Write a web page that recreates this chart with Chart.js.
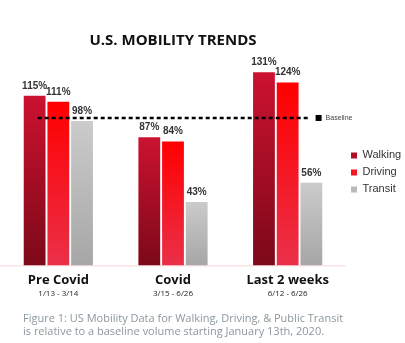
<!DOCTYPE html>
<html>
<head>
<meta charset="utf-8">
<script src="https://cdn.jsdelivr.net/npm/chart.js@4.4.1/dist/chart.umd.min.js"></script>
<style>
  html, body { margin: 0; padding: 0; background: #fff; }
  #wrap { position: relative; width: 405px; height: 343px; }
  #caption {
    position: absolute; left: 23px; top: 311px;
    font: 11px "Open Sans", sans-serif; line-height: 13px;
    color: #8c979d; white-space: nowrap;
  }
</style>
</head>
<body>
<div id="wrap">
  <canvas id="myChart" width="405" height="343"></canvas>
  <div id="caption">Figure 1: US Mobility Data for Walking, Driving, &amp; Public Transit<br>is relative to a baseline volume starting January 13th, 2020.</div>
</div>
<script>
const periods = ['Pre Covid', 'Covid', 'Last 2 weeks'];
const periodDates = ['1/13 - 3/14', '3/15 - 6/26', '6/12 - 6/26'];
const walking = [115, 87, 131];
const driving = [111, 84, 124];
const transit = [98, 43, 56];
const baselineValue = 100;

// bottom / top colour of each bar gradient
const gradWalking = ['#7c0919', '#cc1230'];
const gradDriving = ['#ea3049', '#ff0000'];
const gradTransit = ['#a6a6a6', '#cbcbcb'];

function barGradient(cols) {
  return (c) => {
    const chart = c.chart;
    const area = chart.chartArea;
    if (!area || c.raw === undefined) return cols[1];
    const yTop = chart.scales.y.getPixelForValue(c.raw);
    const g = chart.ctx.createLinearGradient(0, area.bottom, 0, yTop);
    g.addColorStop(0, cols[0]);
    g.addColorStop(1, cols[1]);
    return g;
  };
}

// % labels above the bars + date range under each category
const valueLabels = {
  id: 'valueLabels',
  afterDatasetsDraw(chart) {
    const ctx = chart.ctx;
    ctx.save();
    ctx.font = 'bold 10px "Liberation Sans", Arial, sans-serif';
    ctx.fillStyle = '#333';
    ctx.textAlign = 'center';
    ctx.textBaseline = 'bottom';
    chart.data.datasets.forEach((ds, i) => {
      chart.getDatasetMeta(i).data.forEach((bar, j) => {
        ctx.fillText(ds.data[j] + '%', bar.x, bar.y - 5);
      });
    });
    const xs = chart.scales.x;
    ctx.font = '8px "Open Sans", sans-serif';
    ctx.fillStyle = '#222';
    ctx.textBaseline = 'middle';
    periodDates.forEach((d, i) => {
      ctx.fillText(d, xs.getPixelForValue(i), xs.bottom - 1);
    });
    ctx.restore();
  }
};

// dotted baseline at 100%
const baseline = {
  id: 'baseline',
  afterDatasetsDraw(chart) {
    const ctx = chart.ctx;
    const xs = chart.scales.x;
    const y = chart.scales.y.getPixelForValue(baselineValue);
    const step = xs.getPixelForValue(1) - xs.getPixelForValue(0);
    const x0 = xs.getPixelForValue(0) - step * 0.18;
    const x1 = xs.getPixelForValue(2) + step * 0.2;
    ctx.save();
    ctx.strokeStyle = '#000';
    ctx.lineWidth = 2.5;
    ctx.setLineDash([4, 3]);
    ctx.beginPath();
    ctx.moveTo(x0, y);
    ctx.lineTo(x1, y);
    ctx.stroke();
    ctx.setLineDash([]);
    ctx.fillStyle = '#000';
    ctx.fillRect(x1 + 5, y - 3, 6, 6);
    ctx.font = '7px "Liberation Sans", Arial, sans-serif';
    ctx.fillStyle = '#444';
    ctx.textBaseline = 'middle';
    ctx.fillText('Baseline', x1 + 15, y);
    ctx.restore();
  }
};

const ctxt = document.getElementById('myChart').getContext('2d');
const myChart = new Chart(ctxt, {
  type: 'bar',
  data: {
    labels: periods,
    datasets: [
      { label: 'Walking', data: walking, backgroundColor: barGradient(gradWalking) },
      { label: 'Driving', data: driving, backgroundColor: barGradient(gradDriving) },
      { label: 'Transit', data: transit, backgroundColor: barGradient(gradTransit) }
    ]
  },
  options: {
    responsive: false,
    animation: false,
    layout: { padding: { left: 1, right: 0, top: 0, bottom: 48 } },
    datasets: {
      bar: { categoryPercentage: 0.62, barPercentage: 0.92, borderWidth: 0 }
    },
    scales: {
      y: { display: false, min: 0, max: 140 },
      x: {
        grid: { display: false, drawTicks: false },
        border: { display: true, color: '#fbe3e6', width: 1.5 },
        ticks: {
          padding: 7,
          color: '#111',
          font: { family: '"Open Sans", sans-serif', size: 13, weight: 'bold' }
        }
      }
    },
    plugins: {
      tooltip: { enabled: false },
      title: {
        display: true,
        text: 'U.S. MOBILITY TRENDS',
        fullSize: false,
        color: '#111',
        font: { family: '"Open Sans", sans-serif', size: 15, weight: 'bold' },
        padding: { top: 32, bottom: 9 }
      },
      legend: {
        position: 'right',
        fullSize: false,
        maxWidth: 60,
        title: { display: true, text: ' ', font: { size: 12 }, padding: 3 },
        labels: {
          boxWidth: 6,
          boxHeight: 6,
          padding: 6,
          color: '#333',
          font: { family: '"Liberation Sans", Arial, sans-serif', size: 11 }
        }
      }
    }
  },
  plugins: [valueLabels, baseline]
});
</script>
</body>
</html>
